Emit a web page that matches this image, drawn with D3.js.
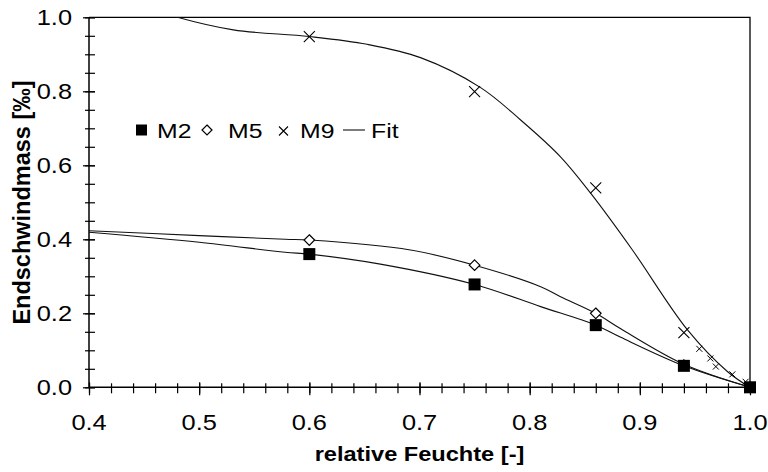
<!DOCTYPE html>
<html><head><meta charset="utf-8">
<script src="https://cdn.jsdelivr.net/npm/d3@7"></script>
<style>body{margin:0;background:#fff}svg{display:block}text{font-family:"Liberation Sans",Arial,sans-serif}</style>
</head><body><svg id="c" width="768" height="472"></svg>
<script>
// measured data
const m2 = [[0.6,0.36],[0.75,0.278],[0.86,0.168],[0.94,0.058],[1.0,0.0]];
const m5 = [[0.6,0.398],[0.75,0.330],[0.86,0.200],[0.94,0.060],[1.0,0.0]];
const m9 = [[0.6,0.948],[0.75,0.799],[0.86,0.539],[0.94,0.148],[1.0,0.0]];
const m9small = [[0.954,0.104],[0.964,0.078],[0.969,0.056],[0.984,0.035],[0.996,0.015]];
// fit curves
const fitM2 = [[0.4,0.419],[0.5,0.392],[0.578,0.365],[0.6,0.36],[0.6645,0.333],[0.75,0.278],[0.81,0.218],[0.86,0.168],[0.8827,0.135],[0.94,0.058],[1.0,0.0]];
const fitM5 = [[0.4,0.423],[0.5,0.41],[0.578,0.400],[0.6,0.398],[0.6918,0.371],[0.75,0.330],[0.81,0.272],[0.828,0.245],[0.86,0.200],[0.8827,0.158],[0.94,0.062],[1.0,0.0]];
const fitM9 = [[0.45,1.03],[0.4803,1.0],[0.531,0.966],[0.6,0.948],[0.6524,0.927],[0.7009,0.891],[0.7555,0.810],[0.7918,0.7225],[0.828,0.623],[0.8555,0.524],[0.8933,0.371],[0.9433,0.155],[0.9797,0.042],[1.0,0.0]];
const xTicks = [0.4,0.5,0.6,0.7,0.8,0.9,1.0];
const yTicks = [0.0,0.2,0.4,0.6,0.8,1.0];
const legendItems = ["M2","M5","M9","Fit"];

const SX = 1.18; // horizontal stretch of the original's text
const svg = d3.select("#c");
const x = d3.scaleLinear().domain([0.4,1.0]).range([89,750]);
const y = d3.scaleLinear().domain([0,1.0]).range([387.3,17.3]);
const fmt = d3.format(".1f");

svg.append("clipPath").attr("id","clip").append("rect")
  .attr("x",89).attr("y",17.3).attr("width",661).attr("height",370);

svg.append("path").attr("d",`M${x(0.4)},${y(1)}H${x(1)}V${y(0)}`)
  .attr("fill","none").attr("stroke","#000").attr("stroke-width",1.3);

const xMinor = d3.range(0,31).map(i=>0.4+i*0.02);
const yMinor = d3.range(0,21).map(i=>i*0.05);

function tickGroup(axis, tx, ty){
  const g = svg.append("g").attr("transform",`translate(${tx},${ty})`).call(axis);
  g.select(".domain").remove();
  g.selectAll("text").remove();
  g.selectAll("line").attr("stroke","#000").attr("stroke-width",1.2);
  return g;
}
tickGroup(d3.axisBottom(x).tickValues(xMinor).tickSize(10), 0, y(0)-4);
tickGroup(d3.axisBottom(x).tickValues(xTicks).tickSize(13), 0, y(0)-5);
tickGroup(d3.axisRight(y).tickValues(yMinor).tickSize(10), x(0.4)-4, 0);
tickGroup(d3.axisRight(y).tickValues(yTicks).tickSize(12), x(0.4)-6, 0);

svg.append("line").attr("x1",x(0.4)).attr("x2",x(1)).attr("y1",y(0)).attr("y2",y(0)).attr("stroke","#000").attr("stroke-width",1.5);
svg.append("line").attr("x1",x(0.4)).attr("x2",x(0.4)).attr("y1",y(0)).attr("y2",y(1)).attr("stroke","#000").attr("stroke-width",1.5);

svg.append("g").selectAll("text").data(xTicks).join("text")
  .attr("transform",d=>`translate(${x(d)},430) scale(${SX},1)`)
  .attr("text-anchor","middle").attr("font-size",21.5).text(fmt);
svg.append("g").selectAll("text").data(yTicks).join("text")
  .attr("transform",d=>`translate(72,${y(d)}) scale(${SX},1)`)
  .attr("text-anchor","end").attr("dy","0.36em").attr("font-size",21.5).text(fmt);

svg.append("text").attr("transform",`translate(419.5,461) scale(${SX},1)`).attr("text-anchor","middle")
  .attr("font-size",20).attr("font-weight","bold").text("relative Feuchte [-]");
svg.append("text").attr("transform","translate(30,202.5) rotate(-90)").attr("text-anchor","middle")
  .attr("font-size",23.5).attr("font-weight","bold").text("Endschwindmass [‰]");

const line = d3.line().x(d=>x(d[0])).y(d=>y(d[1])).curve(d3.curveCatmullRom.alpha(0.5));
const plot = svg.append("g").attr("clip-path","url(#clip)");
[fitM2,fitM5,fitM9].forEach(f=>{
  plot.append("path").attr("d",line(f)).attr("fill","none").attr("stroke","#111").attr("stroke-width",1.1);
});

function cross(g,cx,cy,s,w){
  g.append("path").attr("d",`M${cx-s},${cy-s}L${cx+s},${cy+s}M${cx-s},${cy+s}L${cx+s},${cy-s}`)
   .attr("stroke","#000").attr("stroke-width",w).attr("fill","none");
}
const mk = svg.append("g");
m9.forEach(d=>cross(mk,x(d[0]),y(d[1]),5.5,1.1));
m9small.forEach(d=>cross(mk,x(d[0]),y(d[1]),3,1));
m5.forEach(d=>{
  const cx=x(d[0]),cy=y(d[1]),s=5.3;
  mk.append("path").attr("d",`M${cx},${cy-s}L${cx+s},${cy}L${cx},${cy+s}L${cx-s},${cy}Z`)
    .attr("fill","#fff").attr("stroke","#000").attr("stroke-width",1.2);
});
m2.forEach(d=>{
  mk.append("rect").attr("x",x(d[0])-6).attr("y",y(d[1])-6).attr("width",12).attr("height",12).attr("fill","#000");
});

const lg = svg.append("g");
const ly = 130;
function ltext(tx,t){
  lg.append("text").attr("transform",`translate(${tx},${ly+7.5}) scale(${SX},1)`).attr("font-size",21).text(t);
}
lg.append("rect").attr("x",136).attr("y",ly-5.5).attr("width",11).attr("height",11).attr("fill","#000");
ltext(157,legendItems[0]);
lg.append("path").attr("d",`M207,${ly-5}L212,${ly}L207,${ly+5}L202,${ly}Z`).attr("fill","#fff").attr("stroke","#000").attr("stroke-width",1.2);
ltext(228,legendItems[1]);
cross(lg,283.5,ly+1,4.5,1.1);
ltext(300,legendItems[2]);
lg.append("line").attr("x1",343).attr("x2",365).attr("y1",ly).attr("y2",ly).attr("stroke","#111").attr("stroke-width",1.1);
ltext(371,legendItems[3]);
</script></body></html>
